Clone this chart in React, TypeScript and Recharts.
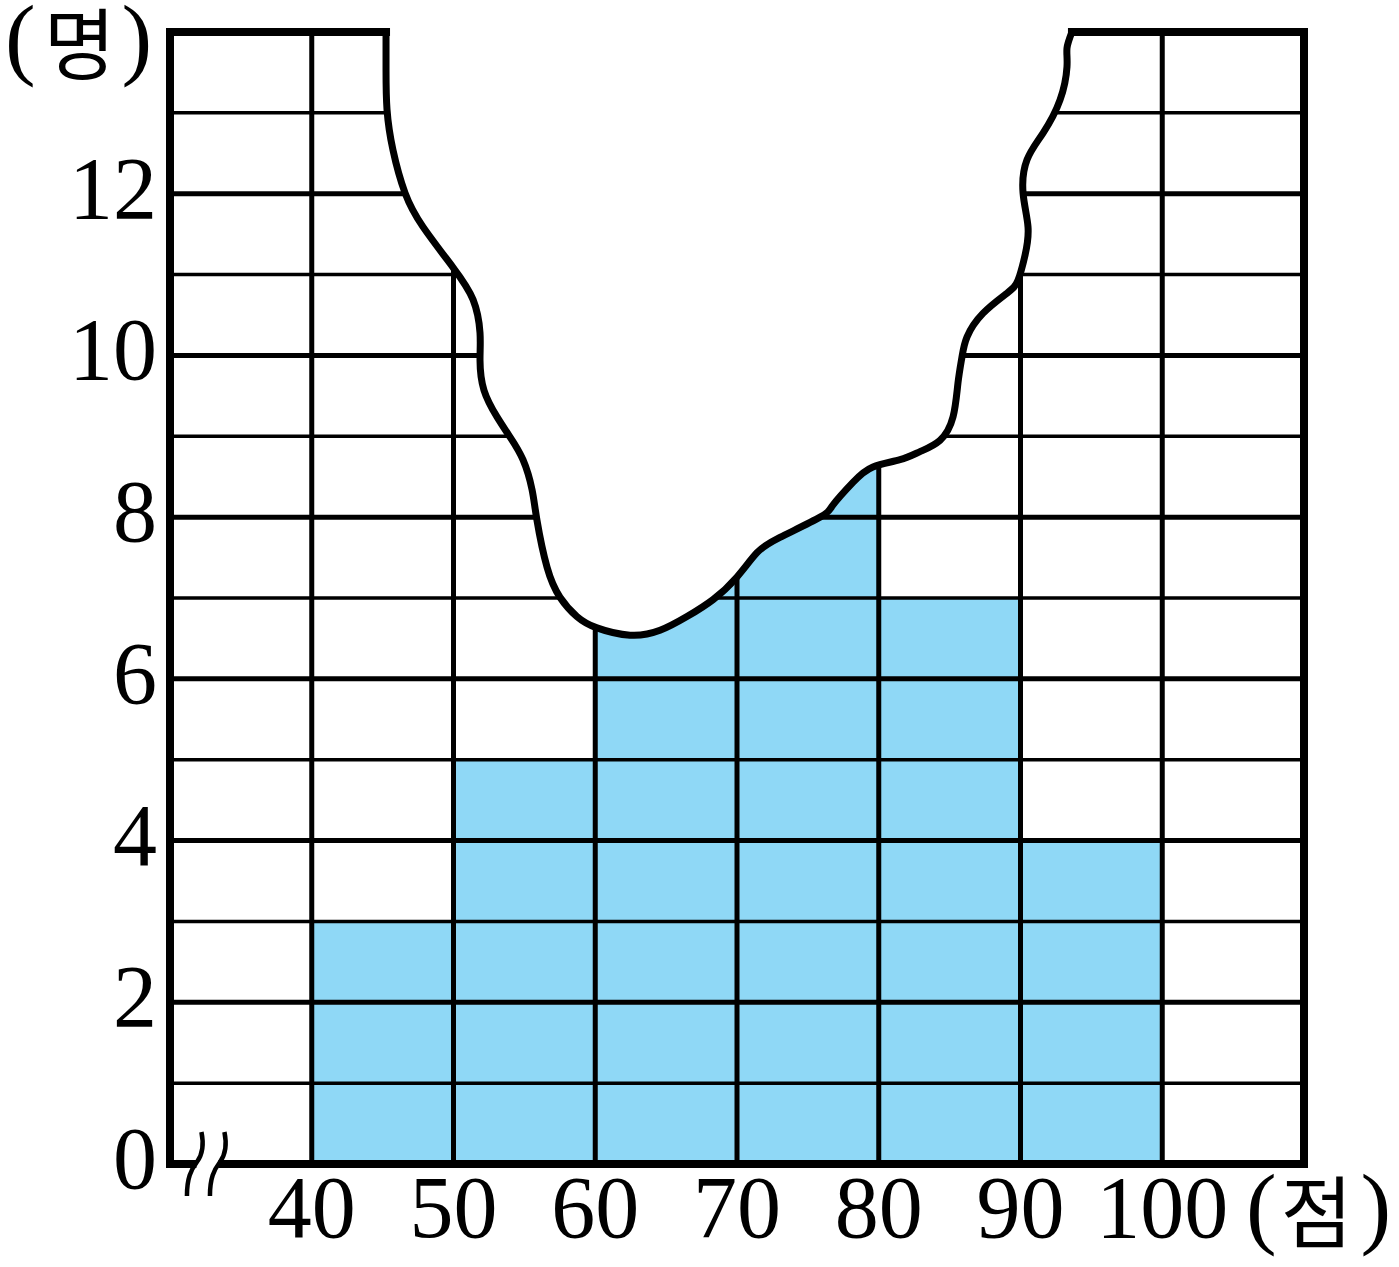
// Histogram with a torn-off middle section (점수별 학생 수)

import { ComposedChart, Bar, Area, XAxis, YAxis, ReferenceLine, ReferenceDot, Label } from 'recharts';

// bins (lower edge of each 10-point class) and counts
const binStarts = [30, 40, 50, 60, 70, 80, 90, 100];
// 60~70 and 70~80 are hidden under the torn paper, values estimated
const counts = [0, 3, 5, 9, 12, 7, 4, 0];

// torn edge, traced in data units (score, people)
const tearX = [45.24, 45.24, 45.31, 45.73, 46.58, 47.85, 49.96, 51.38, 51.87, 51.87, 52.15, 53.07, 53.99, 54.9, 55.54, 55.89, 56.6, 57.51, 58.71, 60.12, 62.45, 64.57, 66.47, 68.31, 70.0, 71.41, 73.03, 75.86, 76.77, 78.18, 79.59, 81.5, 82.91, 84.32, 85.24, 85.59, 85.87, 86.23, 87.35, 89.05, 89.82, 90.32, 90.53, 90.18, 90.46, 91.59, 92.79, 93.28, 93.28, 93.63];
const tearY = [14, 13.53, 13.04, 12.54, 12.01, 11.59, 11.09, 10.69, 10.28, 9.94, 9.57, 9.24, 8.99, 8.71, 8.34, 7.96, 7.38, 7.01, 6.77, 6.63, 6.54, 6.6, 6.77, 6.98, 7.26, 7.56, 7.75, 8.0, 8.15, 8.43, 8.62, 8.71, 8.81, 8.95, 9.24, 9.66, 9.98, 10.23, 10.52, 10.77, 10.93, 11.24, 11.59, 12.01, 12.42, 12.75, 13.16, 13.57, 13.8, 14];

const xTicks = [40, 50, 60, 70, 80, 90, 100];
const yTicks = [0, 2, 4, 6, 8, 10, 12];
const majorY = [2, 4, 6, 8, 10, 12];
const minorY = [1, 3, 5, 7, 9, 11, 13];

const X_MIN = 30;
const X_MAX = 110;
const Y_MAX = 14;

const barData = binStarts.map((b, i) => ({ bin: String(b), count: counts[i] }));
const tearData = tearX.map((x, i) => ({ x, y: tearY[i] }));

const SERIF = '"Liberation Serif", "Times New Roman", serif';
const KR = '"Noto Sans CJK KR", sans-serif';

function YTick({ x, y, payload }: any) {
  return (
    <text x={x} y={y} dy={24} textAnchor="end" fontSize={88} fontFamily={SERIF} fill="#000">
      {payload.value}
    </text>
  );
}

function XTick({ x, y, payload }: any) {
  return (
    <text x={x} y={y} dy={35} textAnchor="middle" fontSize={88} fontFamily={SERIF} fill="#000">
      {payload.value}
    </text>
  );
}

function YUnit({ viewBox }: any) {
  return (
    <text x={viewBox.x + 5} y={viewBox.y + 36} fontSize={92} fontFamily={SERIF} fill="#000">
      <tspan>(</tspan>
      <tspan dx={8} dy={6} fontFamily={KR} fontSize={78}>명</tspan>
      <tspan dx={6} dy={-6}>)</tspan>
    </text>
  );
}

function XUnit({ viewBox }: any) {
  return (
    <text x={viewBox.x + viewBox.width - 58} y={viewBox.y + 43} fontSize={92} fontFamily={SERIF} fill="#000">
      <tspan>(</tspan>
      <tspan dx={4} dy={5} fontFamily={KR} fontSize={78}>점</tspan>
      <tspan dx={8} dy={-5}>)</tspan>
    </text>
  );
}

// axis break mark (≈ shape) on the x axis
function BreakMark({ cx, cy }: any) {
  const stroke = (sx: number) =>
    `M${sx + 7.5},${cy - 32} C${sx + 10},${cy - 20} ${sx + 9},${cy - 10} ${sx + 3},${cy - 2} C${sx - 3},${cy + 6} ${sx - 7},${cy + 14} ${sx - 7},${cy + 32}`;
  return (
    <g>
      <rect x={cx - 9} y={cy - 8} width={22} height={16} fill="#fff" />
      <path d={stroke(cx - 11.5)} fill="none" stroke="#000" strokeWidth={4.5} />
      <path d={stroke(cx + 11.5)} fill="none" stroke="#000" strokeWidth={4.5} />
    </g>
  );
}

export default function App() {
  const tearStart = tearX[0];
  const tearEnd = tearX[tearX.length - 1];

  return (
    <div style={{ position: 'absolute', left: 0, top: 0, width: 1399, height: 1267, background: '#fff' }}>
      <ComposedChart
        width={1399}
        height={1267}
        data={barData}
        margin={{ top: 32, right: 95, bottom: 0, left: 0 }}
        barCategoryGap={0}
        barGap={0}
      >
        <XAxis xAxisId="cat" dataKey="bin" type="category" hide />
        <XAxis
          xAxisId="num"
          dataKey="x"
          type="number"
          domain={[X_MIN, X_MAX]}
          ticks={xTicks}
          interval={0}
          height={103}
          tickLine={false}
          axisLine={false}
          tick={<XTick />}
        >
          <Label content={<XUnit />} />
        </XAxis>
        <YAxis
          type="number"
          domain={[0, Y_MAX]}
          ticks={yTicks}
          interval={0}
          width={170}
          tickLine={false}
          axisLine={false}
          tickMargin={7}
          tick={<YTick />}
        >
          <Label content={<YUnit />} />
        </YAxis>

        <Bar xAxisId="cat" dataKey="count" fill="#8fd8f6" isAnimationActive={false} zIndex={100} />

        {/* grid drawn over the bars */}
        {xTicks.map(v => (
          <ReferenceLine key={'v' + v} xAxisId="num" x={v} stroke="#000" strokeWidth={5} zIndex={200} />
        ))}
        {majorY.map(v => (
          <ReferenceLine key={'h' + v} xAxisId="num" y={v} stroke="#000" strokeWidth={5} zIndex={200} />
        ))}
        {minorY.map(v => (
          <ReferenceLine key={'m' + v} xAxisId="num" y={v} stroke="#000" strokeWidth={3.5} zIndex={200} />
        ))}

        {/* torn paper */}
        <Area
          xAxisId="num"
          data={tearData}
          dataKey="y"
          type="natural"
          baseValue={Y_MAX}
          fill="#fff"
          fillOpacity={1}
          stroke="#000"
          strokeWidth={7}
          dot={false}
          activeDot={false}
          isAnimationActive={false}
          zIndex={300}
        />

        {/* frame */}
        <ReferenceLine xAxisId="num" x={X_MIN} stroke="#000" strokeWidth={8} strokeLinecap="square" zIndex={400} />
        <ReferenceLine xAxisId="num" x={X_MAX} stroke="#000" strokeWidth={8} strokeLinecap="square" zIndex={400} />
        <ReferenceLine xAxisId="num" y={0} stroke="#000" strokeWidth={8} strokeLinecap="square" zIndex={400} />
        <ReferenceLine
          xAxisId="num"
          segment={[{ x: X_MIN, y: Y_MAX }, { x: tearStart, y: Y_MAX }]}
          stroke="#000"
          strokeWidth={8}
          strokeLinecap="square"
          zIndex={400}
        />
        <ReferenceLine
          xAxisId="num"
          segment={[{ x: tearEnd, y: Y_MAX }, { x: X_MAX, y: Y_MAX }]}
          stroke="#000"
          strokeWidth={8}
          strokeLinecap="square"
          zIndex={400}
        />

        <ReferenceDot xAxisId="num" x={32.5} y={0} r={1} shape={<BreakMark />} zIndex={450} />
      </ComposedChart>
    </div>
  );
}
